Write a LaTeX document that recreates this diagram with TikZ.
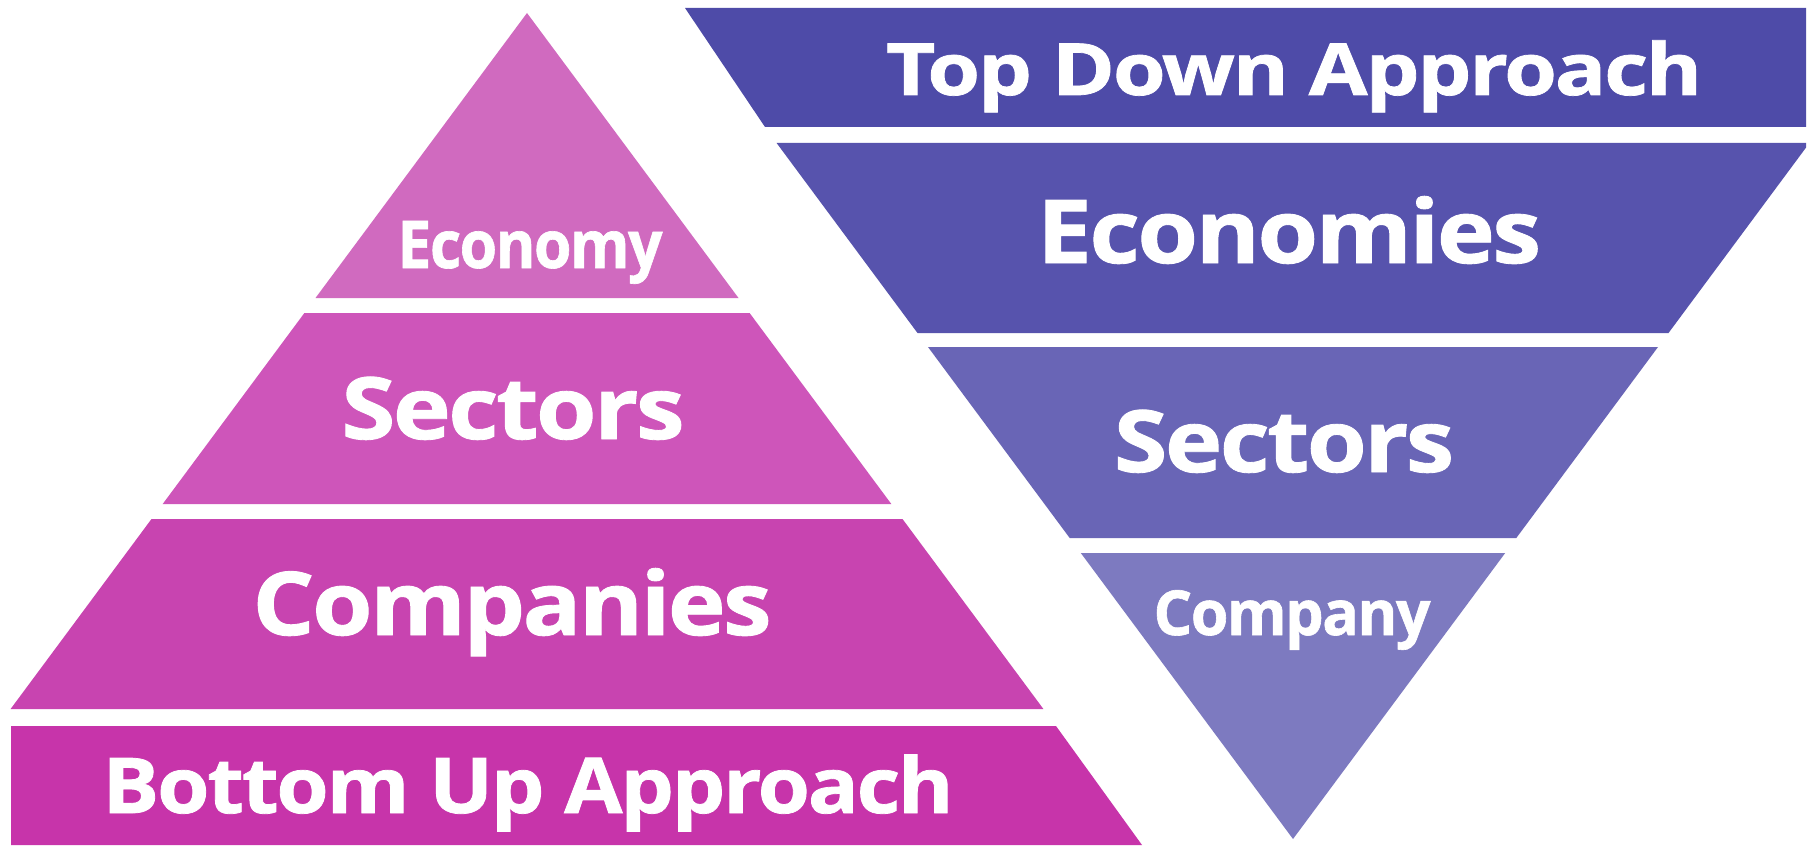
\documentclass[tikz,border=0pt]{standalone}
\usepackage{fontspec}
\setmainfont{Open Sans}[BoldFeatures={FakeBold=1,LetterSpace=-2.5}]
\definecolor{pEco}{HTML}{D06ABF}
\definecolor{pSec}{HTML}{CE55BA}
\definecolor{pCom}{HTML}{C844B0}
\definecolor{pBot}{HTML}{C734AA}
\definecolor{vTop}{HTML}{4E4BA8}
\definecolor{vEco}{HTML}{5753AD}
\definecolor{vSec}{HTML}{6965B6}
\definecolor{vCom}{HTML}{7D7AC0}
\newcommand\fitw[3]{\resizebox{#1}{\height}{\fontsize{#2}{#2}\selectfont\bfseries #3}}
\begin{document}
\begin{tikzpicture}[x=1pt,y=-1pt,
  lbl/.style={text=white,inner sep=0pt,anchor=base}]
\useasboundingbox (0,0) rectangle (1810,848);
\fill[white] (0,0) rectangle (1810,848);
% left pyramid
\fill[pEco] (527,13) -- (738.5,298) -- (315.5,298) -- cycle;
\fill[pSec] (304.4,313) -- (749.6,313) -- (891.3,504) -- (162.7,504) -- cycle;
\fill[pCom] (151.5,519) -- (902.5,519) -- (1043.4,709) -- (10.6,709) -- cycle;
\fill[pBot] (11,726) -- (1056,726) -- (1142,845) -- (11,845) -- cycle;
% right inverted pyramid
\fill[vTop] (685,8) -- (1806,8) -- (1806,127) -- (765,127) -- cycle;
\fill[vEco] (776.6,143) -- (1806,143) -- (1806,147.6) -- (1668.5,333) -- (917.5,333) -- cycle;
\fill[vSec] (928,347) -- (1658,347) -- (1516.3,538) -- (1069.7,538) -- cycle;
\fill[vCom] (1080.8,553) -- (1505.2,553) -- (1293,839) -- cycle;
% labels
\node[lbl] (economy) at (530,268) {\fitw{265pt}{66}{Economy}};
\node[lbl] (sectorsL) at (513,439) {\fitw{343pt}{86}{Sectors}};
\node[lbl] (companies) at (512,635) {\fitw{519pt}{88}{Companies}};
\node[lbl] (bottomup) at (528,813) {\fitw{851pt}{77}{Bottom Up Approach}};
\node[lbl] (topdown) at (1294,95) {\fitw{816pt}{72}{Top Down Approach}};
\node[lbl] (economies) at (1289,263) {\fitw{504pt}{88}{Economies}};
\node[lbl] (sectorsR) at (1284,472) {\fitw{340pt}{86}{Sectors}};
\node[lbl] (company) at (1292,635) {\fitw{277pt}{62}{Company}};
\end{tikzpicture}
\end{document}
